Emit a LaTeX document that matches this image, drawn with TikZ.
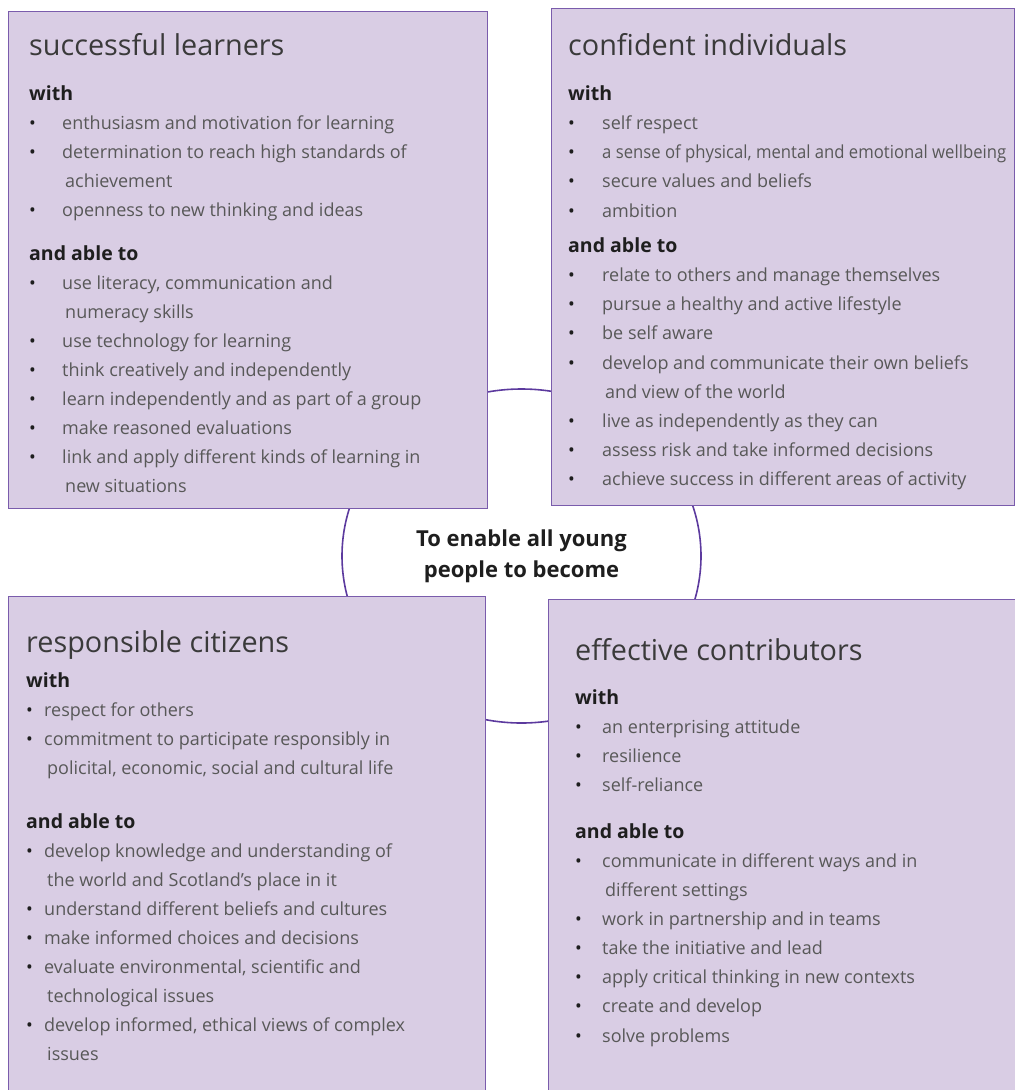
\documentclass[tikz,border=0pt]{standalone}
\usepackage{fontspec}
\setmainfont{Open Sans}
\usepackage{graphicx}
\usepackage{tikz}
\usetikzlibrary{positioning,shapes.geometric}

\definecolor{boxfill}{RGB}{217,205,228}
\definecolor{boxline}{RGB}{122,92,172}
\definecolor{ringline}{RGB}{92,58,158}
\definecolor{titlegray}{RGB}{58,58,58}
\definecolor{bodygray}{RGB}{88,88,88}
\definecolor{headgray}{RGB}{30,30,30}

\newlength{\bulwd}
\newcommand{\bul}[1]{\makebox[\bulwd][l]{\textcolor{headgray}{\textbullet}}#1}
\newcommand{\more}[1]{\hspace*{\bulwd}\hspace*{3pt}#1}
\newcommand{\hd}[1]{{\fontsize{19.5}{29}\selectfont\bfseries\color{headgray}#1}}
\newcommand{\ttl}[1]{{\fontsize{28.8}{29}\selectfont\color{titlegray}\rule{0pt}{22pt}#1}}

\begin{document}
\begin{tikzpicture}[x=1pt, y=-1pt,
	panel/.style={rectangle, draw=boxline, fill=boxfill, line width=1pt, anchor=north west, inner sep=0pt},
	panel text/.style={align=left, inner sep=0pt, text=bodygray}]
	\useasboundingbox (0,0) rectangle (1015,1090);
	\clip (0,0) rectangle (1015,1090);

	% ring behind the four panels
	\node (hub) [ellipse, draw=ringline, line width=1.6pt, minimum width=359pt, minimum height=334pt, inner sep=0pt, align=center, text=headgray, font=\fontsize{22}{31}\selectfont\bfseries] at (521.5,556)
	{To enable all young\\people to become};

	\node (sl) [panel, minimum width=479pt, minimum height=497pt] at (8,11) {};
	\node (ci) [panel, minimum width=463pt, minimum height=497pt] at (551,8) {};
	\node (rc) [panel, minimum width=477pt, minimum height=500pt] at (8,596) {};
	\node (ec) [panel, minimum width=467pt, minimum height=497pt] at (548,599) {};

	\node (sltext) [panel text, font=\fontsize{18}{29}\selectfont\setlength{\bulwd}{33pt}, below right=22pt and 21pt of sl.north west]
	{
		\ttl{successful learners}\\[16pt]
		\hd{with}\\
		\bul{enthusiasm and motivation for learning}\\
		\bul{determination to reach high standards of}\\
		\more{achievement}\\
		\bul{openness to new thinking and ideas}\\[15pt]
		\hd{and able to}\\
		\bul{use literacy, communication and}\\
		\more{numeracy skills}\\
		\bul{use technology for learning}\\
		\bul{think creatively and independently}\\
		\bul{learn independently and as part of a group}\\
		\bul{make reasoned evaluations}\\
		\bul{link and apply different kinds of learning in}\\
		\more{new situations}
	};
	\node (citext) [panel text, font=\fontsize{18}{29.2}\selectfont\setlength{\bulwd}{34pt}, below right=25pt and 17pt of ci.north west]
	{
		\ttl{confident individuals}\\[15.8pt]
		\hd{with}\\
		\bul{self respect}\\
		\bul{\resizebox{404pt}{\height}{a sense of physical, mental and emotional wellbeing}}\\
		\bul{secure values and beliefs}\\
		\bul{ambition}\\[6pt]
		\hd{and able to}\\
		\bul{relate to others and manage themselves}\\
		\bul{pursue a healthy and active lifestyle}\\
		\bul{be self aware}\\
		\bul{develop and communicate their own beliefs}\\
		\more{and view of the world}\\
		\bul{live as independently as they can}\\
		\bul{assess risk and take informed decisions}\\
		\bul{achieve success in different areas of activity}
	};
	\node (rctext) [panel text, font=\fontsize{18}{29}\selectfont\setlength{\bulwd}{18pt}, below right=34pt and 18pt of rc.north west]
	{
		\ttl{responsible citizens}\\[6pt]
		\hd{with}\\
		\bul{respect for others}\\
		\bul{commitment to participate responsibly in}\\
		\more{policital, economic, social and cultural life}\\[25pt]
		\hd{and able to}\\
		\bul{develop knowledge and understanding of}\\
		\more{the world and Scotland's place in it}\\
		\bul{understand different beliefs and cultures}\\
		\bul{make informed choices and decisions}\\
		\bul{evaluate environmental, scientific and}\\
		\more{technological issues}\\
		\bul{develop informed, ethical views of complex}\\
		\more{issues}
	};
	\node (ectext) [panel text, font=\fontsize{18}{29.1}\selectfont\setlength{\bulwd}{27pt}, below right=39pt and 27pt of ec.north west]
	{
		\ttl{effective contributors}\\[15pt]
		\hd{with}\\
		\bul{an enterprising attitude}\\
		\bul{resilience}\\
		\bul{self-reliance}\\[17.6pt]
		\hd{and able to}\\
		\bul{communicate in different ways and in}\\
		\more{different settings}\\
		\bul{work in partnership and in teams}\\
		\bul{take the initiative and lead}\\
		\bul{apply critical thinking in new contexts}\\
		\bul{create and develop}\\
		\bul{solve problems}
	};
\end{tikzpicture}
\end{document}
